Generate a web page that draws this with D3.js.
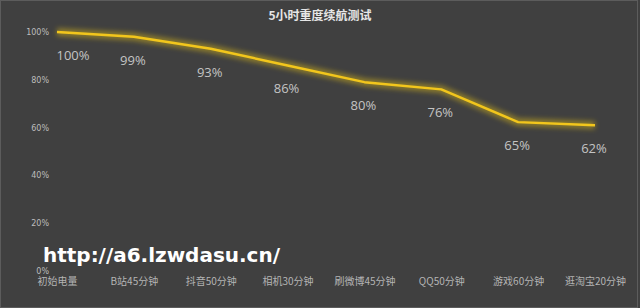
<!DOCTYPE html>
<html>
<head>
<meta charset="utf-8">
<script src="https://cdn.jsdelivr.net/npm/d3@7"></script>
<style>
  html, body { margin: 0; padding: 0; background: #404040; }
  svg { display: block; }
</style>
</head>
<body>
<svg id="chart"></svg>
<script>
const categories = ["初始电量", "B站45分钟", "抖音50分钟", "相机30分钟", "刷微博45分钟", "QQ50分钟", "游戏60分钟", "逛淘宝20分钟"];
const values = [100, 98, 93, 86, 79, 76, 62.3, 61];
const labels = ["100%", "99%", "93%", "86%", "80%", "76%", "65%", "62%"];
const yTicks = [0, 20, 40, 60, 80, 100];

const width = 640, height = 308;

const svg = d3.select("#chart")
    .attr("width", width)
    .attr("height", height);

svg.append("rect")
    .attr("x", 0.5).attr("y", 0.5)
    .attr("width", width - 3).attr("height", height - 1)
    .attr("fill", "#404040")
    .attr("stroke", "#5c5c5c");

// glow for the line
const defs = svg.append("defs");
defs.append("filter")
    .attr("id", "glow")
    .attr("x", "-10%").attr("y", "-50%")
    .attr("width", "120%").attr("height", "200%")
  .append("feGaussianBlur")
    .attr("stdDeviation", 2.5);

const x = d3.scalePoint()
    .domain(categories)
    .range([57, 595]);

const y = d3.scaleLinear()
    .domain([0, 100])
    .range([271, 32]);

// title
svg.append("text")
    .attr("x", 320)
    .attr("y", 20)
    .attr("text-anchor", "middle")
    .style("font-family", "'Noto Sans CJK SC', sans-serif")
    .style("font-size", "12px")
    .style("font-weight", "bold")
    .style("fill", "#e6e6e6")
    .text("5小时重度续航测试");

// y axis labels (no line)
const yAxis = d3.axisLeft(y)
    .tickValues(yTicks)
    .tickSize(0)
    .tickPadding(0)
    .tickFormat(d => d + "%");

const yg = svg.append("g")
    .attr("transform", "translate(49,0)")
    .call(yAxis);
yg.select(".domain").remove();
yg.selectAll("text")
    .style("font-family", "'DejaVu Sans', sans-serif")
    .style("font-size", "8px")
    .style("fill", "#bdbdbd");

// x axis labels
const xAxis = d3.axisBottom(x)
    .tickSize(0)
    .tickPadding(0);

const xg = svg.append("g")
    .attr("transform", "translate(0,278)")
    .call(xAxis);
xg.select(".domain").remove();
xg.selectAll("text")
    .style("font-family", "'Noto Sans CJK SC', sans-serif")
    .style("font-size", "10px")
    .style("fill", "#b4b4b4");

const line = d3.line()
    .x((d, i) => x(categories[i]))
    .y(d => y(d));

// glow underneath
svg.append("path")
    .datum(values)
    .attr("d", line)
    .attr("fill", "none")
    .attr("stroke", "#c8aa1e")
    .attr("stroke-width", 8)
    .attr("stroke-linejoin", "round")
    .attr("opacity", 0.55)
    .attr("filter", "url(#glow)");

svg.append("path")
    .datum(values)
    .attr("d", line)
    .attr("fill", "none")
    .attr("stroke", "#f2c61c")
    .attr("stroke-width", 2.4)
    .attr("stroke-linejoin", "round");

// data labels
svg.selectAll(".dl")
    .data(values)
    .join("text")
    .attr("class", "dl")
    .attr("x", (d, i) => x(categories[i]) + (i === 0 ? 16 : -1))
    .attr("y", d => y(d) + 28)
    .attr("text-anchor", "middle")
    .style("font-family", "'Open Sans', sans-serif")
    .style("font-size", "13px")
    .style("fill", "#c4c4c4")
    .text((d, i) => labels[i]);

// watermark
svg.append("text")
    .attr("x", 43)
    .attr("y", 262)
    .style("font-family", "'DejaVu Sans', sans-serif")
    .style("font-size", "20px")
    .style("font-weight", "bold")
    .style("fill", "#ffffff")
    .attr("textLength", 237)
    .text("http://a6.lzwdasu.cn/");
</script>
</body>
</html>
